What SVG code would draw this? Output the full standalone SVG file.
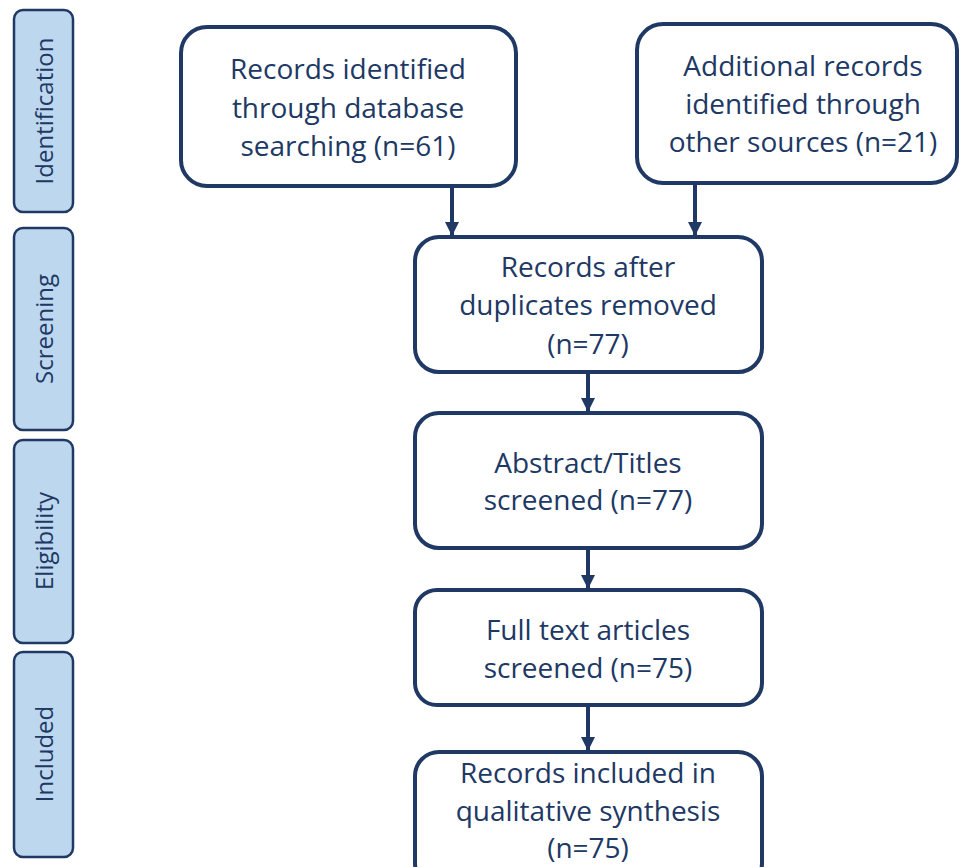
<svg xmlns="http://www.w3.org/2000/svg" width="960" height="867" viewBox="0 0 960 867">
<style>
.phase rect{fill:#BDD7EE;stroke:#203864;stroke-width:2.5}
.phase text{font-family:"Open Sans","Noto Sans",sans-serif;font-size:24px;fill:#203864;text-anchor:middle;dominant-baseline:central}
.node rect{fill:#fff;stroke:#203864;stroke-width:4}
.node text{font-family:"Open Sans","Noto Sans",sans-serif;font-size:28px;fill:#203864;text-anchor:middle;dominant-baseline:central}
.conn line{stroke:#203864;stroke-width:4}
</style>
<defs>
<marker id="ah" viewBox="0 0 10 10" refX="10" refY="5" markerWidth="3.5" markerHeight="3.5" orient="auto" markerUnits="strokeWidth">
<path d="M0,0 L10,5 L0,10 z" fill="#203864"/>
</marker>
</defs>
<g id="phase-identification" class="phase"><rect x="14" y="10" width="59" height="202" rx="9"/><text transform="translate(43.5,111) rotate(-90)">Identification</text></g>
<g id="phase-screening" class="phase"><rect x="14" y="228" width="59" height="202" rx="9"/><text transform="translate(43.5,329) rotate(-90)">Screening</text></g>
<g id="phase-eligibility" class="phase"><rect x="14" y="440" width="59" height="203" rx="9"/><text transform="translate(43.5,541) rotate(-90)">Eligibility</text></g>
<g id="phase-included" class="phase"><rect x="14" y="652" width="59" height="205" rx="9"/><text transform="translate(43.5,754) rotate(-90)">Included</text></g>

<g id="n1" class="node"><rect x="181" y="27" width="335" height="159" rx="26"/><text x="348" y="68">Records identified</text><text x="348" y="107">through database</text><text x="348" y="145">searching (n=61)</text></g>
<g id="n2" class="node"><rect x="637" y="24" width="320" height="159" rx="26"/><text x="803" y="65">Additional records</text><text x="803" y="103">identified through</text><text x="803" y="141">other sources (n=21)</text></g>
<g id="n3" class="node"><rect x="415" y="237" width="347" height="135" rx="24"/><text x="588" y="266">Records after</text><text x="588" y="304">duplicates removed</text><text x="588" y="343">(n=77)</text></g>
<g id="n4" class="node"><rect x="415" y="413" width="347" height="135" rx="24"/><text x="588" y="462">Abstract/Titles</text><text x="588" y="499">screened (n=77)</text></g>
<g id="n5" class="node"><rect x="415" y="590" width="347" height="115" rx="22"/><text x="588" y="629">Full text articles</text><text x="588" y="667">screened (n=75)</text></g>
<g id="n6" class="node"><rect x="415" y="752" width="347" height="135" rx="24"/><text x="588" y="772">Records included in</text><text x="588" y="810">qualitative synthesis</text><text x="588" y="847">(n=75)</text></g>

<g id="connectors" class="conn">
<line x1="452" y1="188" x2="452" y2="236" marker-end="url(#ah)"/>
<line x1="695" y1="185" x2="695" y2="236" marker-end="url(#ah)"/>
<line x1="588" y1="374" x2="588" y2="412" marker-end="url(#ah)"/>
<line x1="588" y1="550" x2="588" y2="589" marker-end="url(#ah)"/>
<line x1="588" y1="707" x2="588" y2="751" marker-end="url(#ah)"/>
</g>
</svg>
